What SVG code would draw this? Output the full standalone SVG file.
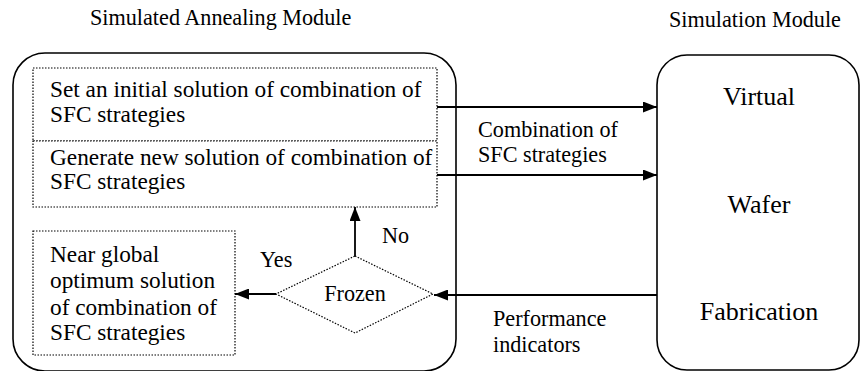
<svg xmlns="http://www.w3.org/2000/svg" width="865" height="371" viewBox="0 0 865 371" font-family="'Liberation Serif', 'Times New Roman', serif">
<defs>
<marker id="ah" markerWidth="14" markerHeight="11" refX="14" refY="5.5" orient="auto" markerUnits="userSpaceOnUse">
<path d="M0,0 L14,5.5 L0,11 Z" fill="#000"/>
</marker>
<style>
text{font-family:'Liberation Serif','Times New Roman',serif;fill:#000}
.t{font-size:23.3px}
.m{font-size:22.2px}
.b{font-size:26px}
.mod{fill:none;stroke:#000;stroke-width:1.6}
.dot{fill:#fff;stroke:#000;stroke-width:1.2;stroke-dasharray:1.5 1.5}
.c{fill:none;stroke:#000;stroke-width:1.8}
</style>
</defs>
<rect width="865" height="371" fill="#fff"/>
<text class="m" x="90" y="25">Simulated Annealing Module</text>
<text class="m" x="669" y="27">Simulation Module</text>
<g id="sa-module"><rect class="mod" x="13" y="53" width="443" height="318" rx="32" ry="32"/></g>
<g id="sim-module">
<rect class="mod" x="657" y="55" width="202" height="315" rx="30" ry="30"/>
<text class="b" x="759" y="105" text-anchor="middle">Virtual</text>
<text class="b" x="759" y="213" text-anchor="middle">Wafer</text>
<text class="b" x="759" y="320" text-anchor="middle">Fabrication</text>
</g>
<g id="init">
<rect class="dot" x="33" y="68" width="404" height="73"/>
<text class="t" x="50" y="97">Set an initial solution of combination of</text>
<text class="t" x="50" y="122">SFC strategies</text>
</g>
<g id="gen">
<rect class="dot" x="33" y="141" width="404" height="66"/>
<text class="t" x="50" y="165">Generate new solution of combination of</text>
<text class="t" x="50" y="189">SFC strategies</text>
</g>
<g id="result">
<rect class="dot" x="33" y="231" width="202" height="124"/>
<text class="t" x="50" y="262">Near global</text>
<text class="t" x="50" y="288">optimum solution</text>
<text class="t" x="50" y="315">of combination of</text>
<text class="t" x="50" y="340">SFC strategies</text>
</g>
<g id="frozen">
<polygon class="dot" points="355,256 433,294 355,333 276,294"/>
<text class="m" x="355" y="301" text-anchor="middle">Frozen</text>
</g>
<g id="connectors">
<line class="c" x1="437" y1="107" x2="657" y2="107" marker-end="url(#ah)"/>
<line class="c" x1="437" y1="175" x2="657" y2="175" marker-end="url(#ah)"/>
<line class="c" x1="657" y1="295" x2="434" y2="295" marker-end="url(#ah)"/>
<line class="c" x1="355" y1="256" x2="355" y2="207" marker-end="url(#ah)"/>
<line class="c" x1="276" y1="294" x2="235" y2="294" marker-end="url(#ah)"/>
<text class="m" x="478" y="137">Combination of</text>
<text class="m" x="478" y="162">SFC strategies</text>
<text class="m" x="493" y="326">Performance</text>
<text class="m" x="493" y="352">indicators</text>
<text class="m" x="382" y="243">No</text>
<text class="m" x="260" y="267">Yes</text>
</g>
</svg>
